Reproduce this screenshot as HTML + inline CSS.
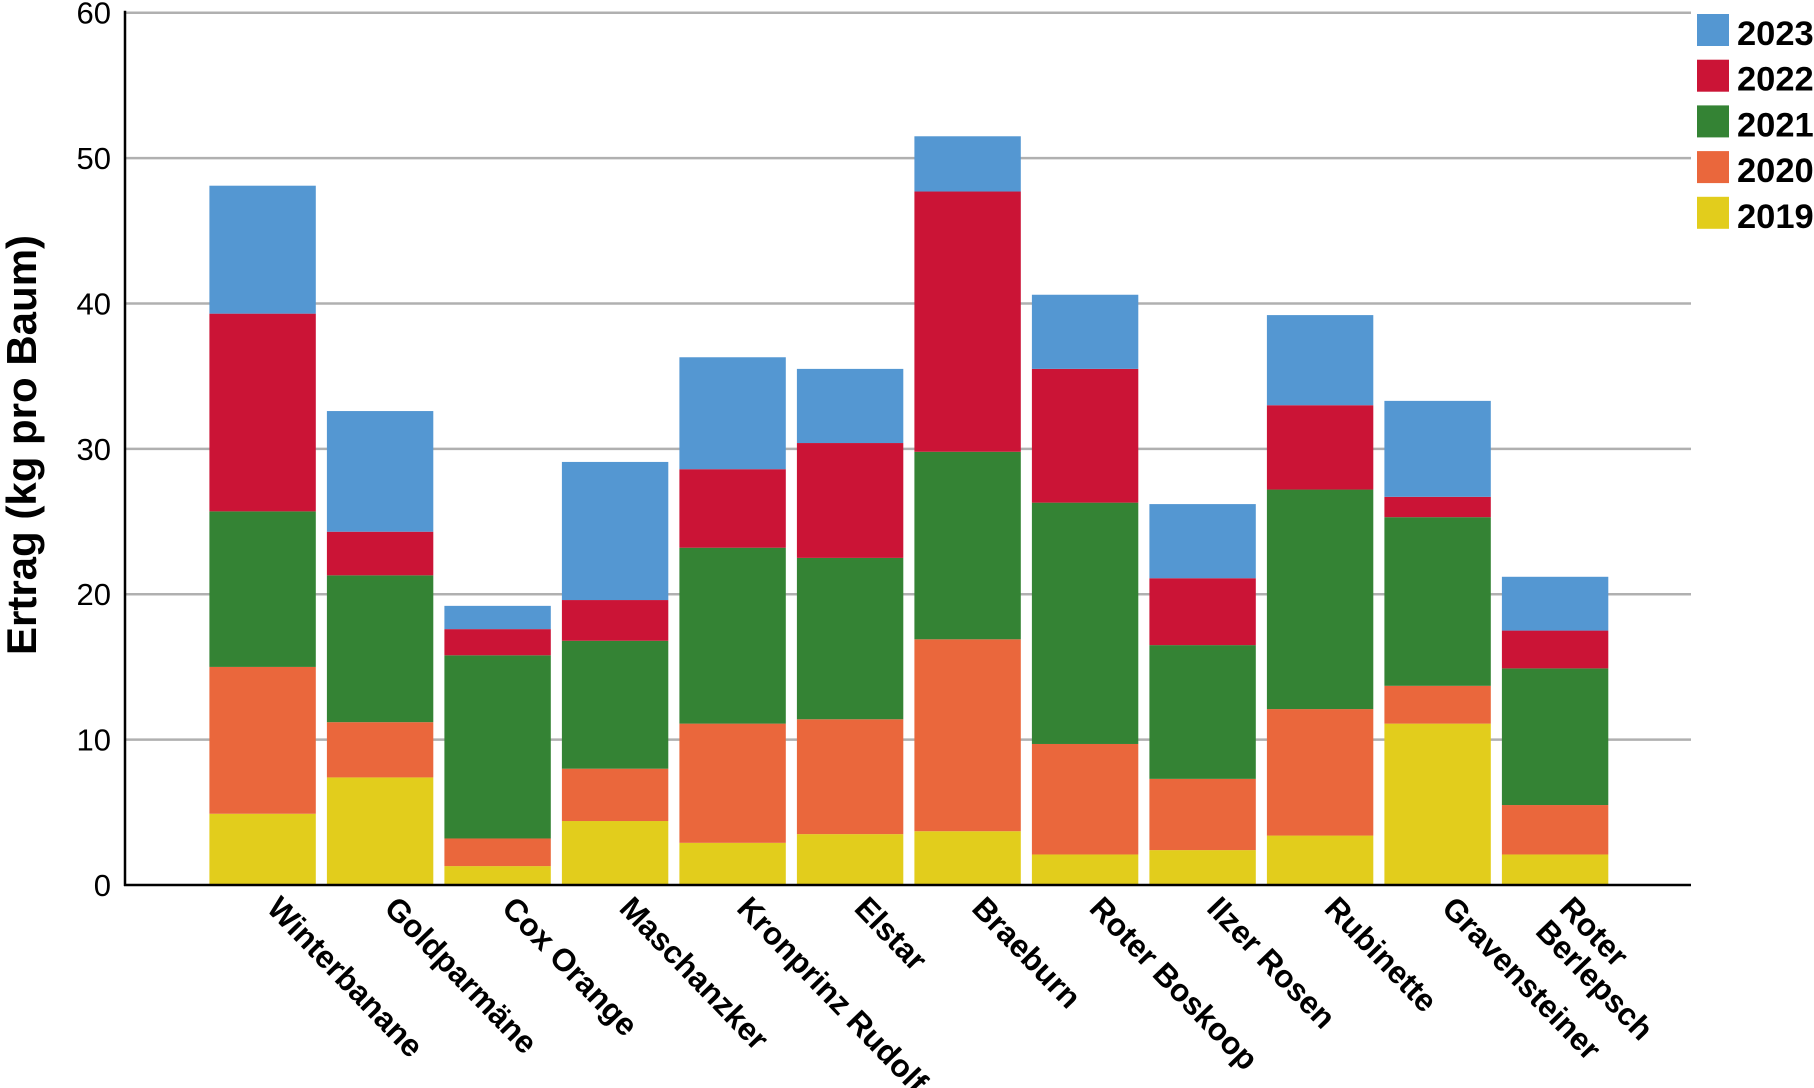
<!DOCTYPE html>
<html><head><meta charset="utf-8"><style>
html,body{margin:0;padding:0;background:#fff;}
svg{display:block;font-family:"Liberation Sans",Arial,sans-serif;}
</style></head><body>
<svg id="chart" width="1814" height="1088" viewBox="0 0 1814 1088" xmlns="http://www.w3.org/2000/svg">
<g id="grid"></g>
<g id="bars"></g>
<g id="axes"></g>
<g id="xlabels"></g>
<g id="legend"></g>
<text x="0" y="0" transform="translate(36,445) rotate(-90)" text-anchor="middle" font-size="42" font-weight="bold">Ertrag (kg pro Baum)</text>
</svg>
<script>
const categories = ["Winterbanane","Goldparmäne","Cox Orange","Maschanzker","Kronprinz Rudolf","Elstar","Braeburn","Roter Boskoop","Ilzer Rosen","Rubinette","Gravensteiner","Roter Berlepsch"];
const years = ["2019","2020","2021","2022","2023"];
const v2019 = [4.9,7.4,1.3,4.4,2.9,3.5,3.7,2.1,2.4,3.4,11.1,2.1];
const v2020 = [10.1,3.8,1.9,3.6,8.2,7.9,13.2,7.6,4.9,8.7,2.6,3.4];
const v2021 = [10.7,10.1,12.6,8.8,12.1,11.1,12.9,16.6,9.2,15.1,11.6,9.4];
const v2022 = [13.6,3.0,1.8,2.8,5.4,7.9,17.9,9.2,4.6,5.8,1.4,2.6];
const v2023 = [8.8,8.3,1.6,9.5,7.7,5.1,3.8,5.1,5.1,6.2,6.6,3.7];
const yTicks = [0,10,20,30,40,50,60];
const colors = ["#e2cd1c","#ea673c","#348334","#cb1436","#5497d2"];

const NS = "http://www.w3.org/2000/svg";
const X0 = 125, X1 = 1691, Y0 = 885, YTOP = 12.7, YMAX = 60;
const barLeft0 = 209.4, pitch = 117.5, barW = 106.4;
function y(v){ return Y0 - v/YMAX*(Y0-YTOP); }
function xLeft(i){ return barLeft0 + i*pitch; }
function mk(tag, attrs, parent){ const e=document.createElementNS(NS,tag); for(const k in attrs) e.setAttribute(k,attrs[k]); parent.appendChild(e); return e; }

const grid=document.getElementById('grid'), axes=document.getElementById('axes');
yTicks.forEach(t=>{
  if(t>0){ const l=mk('line',{x1:X0,x2:X1,y1:y(t),y2:y(t),stroke:'#b0b0b0','stroke-width':2.5},grid);
    
     }
  const tx=mk('text',{x:111,y:y(t)+11,'text-anchor':'end','font-size':31},axes);
  tx.textContent=t;
  
  
});
const ya=mk('line',{x1:X0,x2:X0,y1:YTOP-2,y2:Y0+1,stroke:'#000','stroke-width':2.5},axes);


const xa=mk('line',{x1:X0-1,x2:X1,y1:Y0,y2:Y0,stroke:'#000','stroke-width':2.5},axes);



const series=[v2019,v2020,v2021,v2022,v2023];
const bars=document.getElementById('bars');
categories.forEach((c,i)=>{
  let cum=0;
  series.forEach((s,k)=>{
    const top=cum+s[i];
    const r=mk('rect',{x:xLeft(i),y:y(top),width:barW,height:y(cum)-y(top),fill:colors[k]},bars);
    
    
    cum=top;
  });
});

const xl=document.getElementById('xlabels');
categories.forEach((c,i)=>{
  const cx=xLeft(i)+barW/2+20, cy=Y0+8;
  const g=mk('g',{transform:`translate(${cx},${cy}) rotate(46)`},xl);
  
  
  const lines = c==="Roter Berlepsch" ? ["Roter","Berlepsch"] : [c];
  lines.forEach((ln,j)=>{
    const t=mk('text',{x:0,y:24+j*33,'font-size':31.5,'font-weight':'bold'},g);
    t.textContent=ln;
  });
});

const lg=document.getElementById('legend');
[4,3,2,1,0].forEach((k,j)=>{
  const yy=14+j*45.7;
  const g=mk('g',{},lg);
  
  
  mk('rect',{x:1697,y:yy,width:32,height:32,fill:colors[k]},g);
  const t=mk('text',{x:1737,y:yy+31,'font-size':34.5,'font-weight':'bold'},g);
  t.textContent=years[k];
});
</script>
</body></html>
